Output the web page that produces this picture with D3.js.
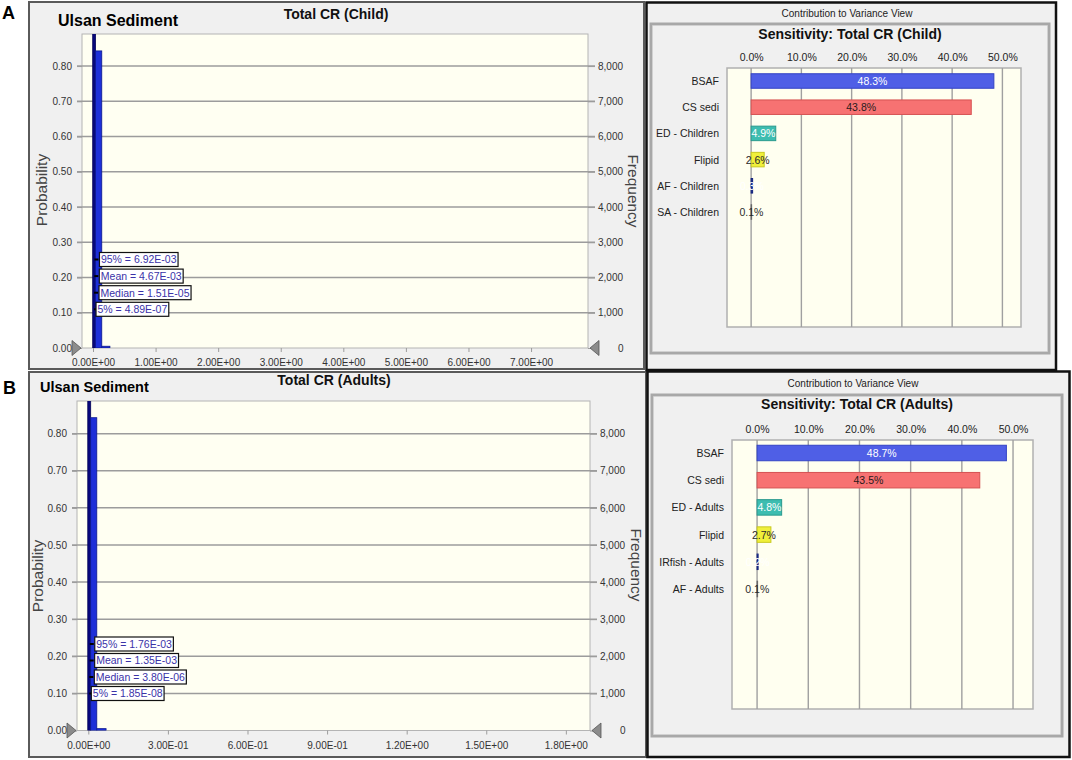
<!DOCTYPE html>
<html><head><meta charset="utf-8">
<script src="https://cdn.jsdelivr.net/npm/d3@7"></script>
<style>
body{margin:0;background:#fff}
svg{display:block}
text{font-family:"Liberation Sans",Arial,sans-serif}
</style>
</head><body>
<svg id="c" width="1072" height="760"></svg>
<script>
// ---------------- DATA ----------------
const probTicks = [0.0, 0.1, 0.2, 0.3, 0.4, 0.5, 0.6, 0.7, 0.8];
const freqTicks = [0, 1000, 2000, 3000, 4000, 5000, 6000, 7000, 8000];
const childXTicks = [0, 1, 2, 3, 4, 5, 6, 7];
const adultXTicks = [0, 0.3, 0.6, 0.9, 1.2, 1.5, 1.8];

// histogram bins (start, end in CR units; probability)
const childBinStart = [-0.005, 0.04, 0.14];
const childBinEnd   = [0.04, 0.14, 0.27];
const childBinProb  = [0.95, 0.843, 0.005];
const adultBinStart = [-0.002, 0.009, 0.032];
const adultBinEnd   = [0.009, 0.032, 0.067];
const adultBinProb  = [0.95, 0.843, 0.005];

const statNames = ["95%", "Mean", "Median", "5%"];
const childStatValues = [6.92e-3, 4.67e-3, 1.51e-5, 4.89e-7];
const adultStatValues = [1.76e-3, 1.35e-3, 3.80e-6, 1.85e-8];

const sensTicks = [0, 10, 20, 30, 40, 50];
const childSensCats = ["BSAF", "CS sedi", "ED - Children", "Flipid", "AF - Children", "SA - Children"];
const childSensValues = [48.3, 43.8, 4.9, 2.6, 0.3, 0.1];
const adultSensCats = ["BSAF", "CS sedi", "ED - Adults", "Flipid", "IRfish - Adults", "AF - Adults"];
const adultSensValues = [48.7, 43.5, 4.8, 2.7, 0.2, 0.1];

// ---------------- STYLE ----------------
const sensFill   = ["#4f5fe6", "#f77272", "#3dbdb0", "#f0f03a", "#22379e", "#8a8a8a"];
const sensStroke = ["#3343c4", "#d65252", "#2a9a8e", "#c8c820", "#10207a", "#666"];
const sensLabelColor = ["#ffffff", "#2a1a1a", "#ffffff", "#2a2a2a", "#ffffff", "#2a2a2a"];

const svg = d3.select("#c");

function sci(v) {
  const s = v.toExponential(2).split("e");
  let exp = parseInt(s[1], 10);
  const sign = exp < 0 ? "-" : "+";
  exp = Math.abs(exp);
  return s[0] + "E" + sign + (exp < 10 ? "0" + exp : exp);
}

function drawHist(o) {
  const g = svg.append("g");
  g.append("rect").attr("x", o.frame[0]).attr("y", o.frame[1])
    .attr("width", o.frame[2]).attr("height", o.frame[3])
    .attr("fill", "#f0f0f0").attr("stroke", "#5a5a5a").attr("stroke-width", 2);
  g.append("text").attr("x", o.letter[1]).attr("y", o.letter[2])
    .attr("font-size", 18).attr("font-weight", "bold").attr("fill", "#000").text(o.letter[0]);
  g.append("text").attr("x", o.site[0]).attr("y", o.site[1])
    .attr("font-size", o.site[2]).attr("font-weight", "bold").attr("fill", "#000").text("Ulsan Sediment");
  g.append("text").attr("x", o.title[1]).attr("y", o.title[2]).attr("text-anchor", "middle")
    .attr("font-size", 14).attr("font-weight", "bold").attr("fill", "#111").text(o.title[0]);

  const p = o.plot;
  const x = d3.scaleLinear().domain(o.xDomain).range([p.l, p.r]);
  const y = d3.scaleLinear().domain([0, o.yMax]).range([p.b, p.t]);
  const yf = d3.scaleLinear().domain([0, o.yMax * 10000]).range([p.b, p.t]);

  g.append("rect").attr("x", p.l).attr("y", p.t).attr("width", p.r - p.l).attr("height", p.b - p.t)
    .attr("fill", "#fffff2").attr("stroke", "#b4b4b4").attr("stroke-width", 1);

  g.selectAll(".grid").data(probTicks.filter(d => d > 0)).enter().append("line")
    .attr("x1", p.l - 5).attr("x2", p.r + 7)
    .attr("y1", d => y(d)).attr("y2", d => y(d))
    .attr("stroke", "#9c9c9c").attr("stroke-width", 1.5);
  const yAxis = d3.axisLeft(y).tickValues(probTicks).tickFormat(d3.format(".2f")).tickSize(5).tickPadding(5);
  const ya = g.append("g").attr("transform", `translate(${p.l},0)`).call(yAxis);
  ya.select(".domain").remove();
  ya.selectAll("line").attr("stroke", "#9c9c9c");
  ya.selectAll("text").attr("font-size", 10).attr("fill", "#333").attr("font-family", "Liberation Sans, Arial");
  const yfAxis = d3.axisRight(yf).tickValues(freqTicks).tickFormat(d3.format(",")).tickSize(7).tickPadding(3);
  const yb = g.append("g").attr("transform", `translate(${p.r},0)`).call(yfAxis);
  yb.select(".domain").remove();
  yb.selectAll("line").attr("stroke", "#9c9c9c");
  yb.selectAll("text").attr("font-size", 10).attr("fill", "#333").attr("font-family", "Liberation Sans, Arial");
  yb.selectAll(".tick").filter(d => d === 0).select("text").attr("dx", 20);
  const xAxis = d3.axisBottom(x).tickValues(o.xTicks).tickFormat(sci).tickSize(4).tickPadding(7);
  const xa = g.append("g").attr("transform", `translate(0,${p.b})`).call(xAxis);
  xa.select(".domain").remove();
  xa.selectAll("line").attr("stroke", "#9c9c9c");
  xa.selectAll("text").attr("font-size", 10).attr("fill", "#333").attr("font-family", "Liberation Sans, Arial");

  const cid = "clip" + o.letter[0];
  svg.append("defs").append("clipPath").attr("id", cid).append("rect")
    .attr("x", p.l).attr("y", p.t).attr("width", p.r - p.l).attr("height", p.b - p.t);
  const bins = o.binStart.map((s, i) => ({ s, e: o.binEnd[i], v: o.binProb[i], i }));
  g.append("g").attr("clip-path", `url(#${cid})`).selectAll("rect").data(bins).enter().append("rect")
    .attr("x", d => x(d.s)).attr("width", d => x(d.e) - x(d.s))
    .attr("y", d => y(d.v)).attr("height", d => y(0) - y(d.v))
    .attr("fill", d => d.i === 0 ? "#08087c" : "#1d2fd8")
    .attr("stroke", d => d.i === 0 ? "#05055a" : "#0c1890").attr("stroke-width", 0.8);

  const tri = (tipX, dir) => {
    const bx = tipX - dir * 9;
    return `M${tipX},${p.b} L${bx},${p.b - 7.5} L${bx},${p.b + 7.5} Z`;
  };
  g.append("path").attr("d", tri(p.l - 1, 1)).attr("fill", "#8c8c8c").attr("stroke", "#555").attr("stroke-width", 0.8);
  g.append("path").attr("d", tri(p.r + 2, -1)).attr("fill", "#8c8c8c").attr("stroke", "#555").attr("stroke-width", 0.8);

  o.statValues.forEach((v, i) => {
    const cy = o.statY0 + i * o.statStep;
    const xv = x(v);
    g.append("line").attr("x1", xv + 1).attr("x2", xv + 5).attr("y1", cy).attr("y2", cy)
      .attr("stroke", "#000").attr("stroke-width", 2);
    const bx = xv + (i === 3 ? 3 : 6);
    const t = g.append("text").attr("x", bx + 1.5).attr("y", cy + 3.8)
      .attr("font-size", 10.5).attr("fill", "#3a32a8").text(statNames[i] + " = " + sci(v));
    const w = t.node().getComputedTextLength();
    g.insert("rect", () => t.node()).attr("x", bx).attr("y", cy - 7).attr("width", w + 3).attr("height", 14)
      .attr("fill", "#fff").attr("stroke", "#111").attr("stroke-width", 1.2);
  });

  g.append("text").attr("transform", `translate(${o.probLab[0]},${o.probLab[1]}) rotate(-90)`)
    .attr("text-anchor", "middle").attr("dominant-baseline", "central")
    .attr("font-size", 15.5).attr("fill", "#444").text("Probability");
  g.append("text").attr("transform", `translate(${o.freqLab[0]},${o.freqLab[1]}) rotate(90)`)
    .attr("text-anchor", "middle").attr("dominant-baseline", "central")
    .attr("font-size", 15.5).attr("fill", "#444").text("Frequency");
}

function drawSens(o) {
  const g = svg.append("g");
  const f = o.frame;
  g.append("rect").attr("x", f[0]).attr("y", f[1]).attr("width", f[2]).attr("height", f[3])
    .attr("fill", "#f0f0f0").attr("stroke", "#111").attr("stroke-width", 2.5);
  const n = o.inner;
  g.append("rect").attr("x", n[0]).attr("y", n[1]).attr("width", n[2]).attr("height", n[3])
    .attr("fill", "#f0f0f0").attr("stroke", "#a8a8a8").attr("stroke-width", 3);
  g.append("rect").attr("x", n[0] + 1.5).attr("y", n[1] + 1.5).attr("width", n[2] - 3).attr("height", n[3] - 3)
    .attr("fill", "none").attr("stroke", "#d6d6d6").attr("stroke-width", 1).attr("stroke-dasharray", "1,1");
  g.append("text").attr("x", o.cap[0]).attr("y", o.cap[1]).attr("text-anchor", "middle")
    .attr("font-size", 10).attr("fill", "#222").text("Contribution to Variance View");
  g.append("text").attr("x", o.title[1]).attr("y", o.title[2]).attr("text-anchor", "middle")
    .attr("font-size", 14).attr("font-weight", "bold").attr("fill", "#111").text(o.title[0]);

  const p = o.plot;
  const x = d3.scaleLinear().domain(o.xDomain).range([p.l, p.r]);
  const y = d3.scalePoint().domain(o.cats).range(o.yRange);
  g.append("rect").attr("x", p.l).attr("y", p.t).attr("width", p.r - p.l).attr("height", p.b - p.t)
    .attr("fill", "#fffff0").attr("stroke", "#b0b0b0").attr("stroke-width", 1.5);
  g.selectAll(".vg").data(sensTicks).enter().append("line")
    .attr("x1", d => x(d)).attr("x2", d => x(d)).attr("y1", p.t).attr("y2", p.b)
    .attr("stroke", "#a0a0a0").attr("stroke-width", 1.4);
  const xa = g.append("g").attr("transform", `translate(0,${p.t})`)
    .call(d3.axisTop(x).tickValues(sensTicks).tickFormat(d => d3.format(".1f")(d) + "%").tickSize(0).tickPadding(7));
  xa.select(".domain").remove();
  xa.selectAll("text").attr("font-size", 10.5).attr("fill", "#222").attr("font-family", "Liberation Sans, Arial");

  const data = o.cats.map((c, i) => ({ c, v: o.vals[i], i }));
  g.selectAll(".bar").data(data).enter().append("rect")
    .attr("x", x(0)).attr("y", d => y(d.c) - o.bh / 2)
    .attr("width", d => x(d.v) - x(0)).attr("height", o.bh)
    .attr("fill", d => sensFill[d.i]).attr("stroke", d => sensStroke[d.i]).attr("stroke-width", 1);
  g.selectAll(".cl").data(data).enter().append("text")
    .attr("x", p.l - 8).attr("y", d => y(d.c) + 4).attr("text-anchor", "end")
    .attr("font-size", 10.5).attr("fill", "#222").text(d => d.c);
  g.selectAll(".vl").data(data).enter().append("text")
    .attr("x", d => (x(0) + x(d.v)) / 2).attr("y", d => y(d.c) + 4).attr("text-anchor", "middle")
    .attr("font-size", 10.5).attr("fill", d => sensLabelColor[d.i]).text(d => d3.format(".1f")(d.v) + "%");
}

// ---------------- LAYOUT ----------------
drawHist({
  frame: [29, 2, 615, 367], letter: ["A", 2, 19], site: [58, 26, 16],
  title: ["Total CR (Child)", 336, 18.5],
  plot: { l: 82, t: 34, r: 588, b: 348 }, xDomain: [-0.176, 7.91], yMax: 0.891,
  xTicks: childXTicks, binStart: childBinStart, binEnd: childBinEnd, binProb: childBinProb,
  statValues: childStatValues, statY0: 259.5, statStep: 16.6,
  probLab: [41, 190], freqLab: [633, 191]
});
drawHist({
  frame: [29, 372, 617, 385], letter: ["B", 3, 394], site: [40, 391.5, 14.5],
  title: ["Total CR (Adults)", 334, 385],
  plot: { l: 77, t: 401, r: 590, b: 730.5 }, xDomain: [-0.0426, 1.891], yMax: 0.888,
  xTicks: adultXTicks, binStart: adultBinStart, binEnd: adultBinEnd, binProb: adultBinProb,
  statValues: adultStatValues, statY0: 644, statStep: 16.5,
  probLab: [37, 576], freqLab: [636, 565]
});
drawSens({
  frame: [646.5, 2.5, 409.5, 367.5], inner: [651, 24, 398, 329], cap: [847, 17.3],
  title: ["Sensitivity: Total CR (Child)", 850, 39],
  plot: { l: 727, t: 68, r: 1021, b: 327 }, xDomain: [-4.8, 53.7],
  cats: childSensCats, vals: childSensValues, yRange: [81, 212], bh: 14.5
});
drawSens({
  frame: [647.5, 371.5, 422, 385.5], inner: [652, 395, 410, 341], cap: [853, 387],
  title: ["Sensitivity: Total CR (Adults)", 857, 409],
  plot: { l: 732, t: 440, r: 1033, b: 709 }, xDomain: [-4.9, 53.9],
  cats: adultSensCats, vals: adultSensValues, yRange: [453, 589], bh: 15.5
});
</script>
</body></html>
